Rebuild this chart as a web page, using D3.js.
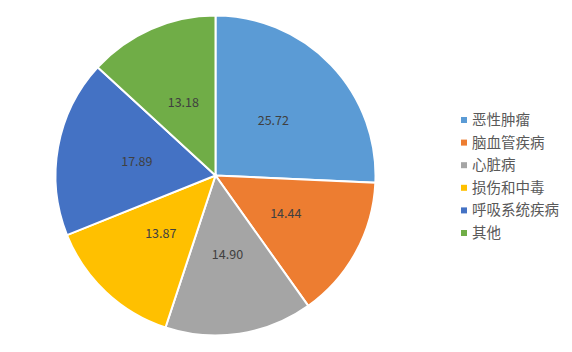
<!DOCTYPE html>
<html>
<head>
<meta charset="utf-8">
<script src="https://cdn.jsdelivr.net/npm/d3@7"></script>
<style>
  body { margin: 0; background: #fff; }
  text { font-family: "Noto Sans CJK SC", "Microsoft YaHei", sans-serif; }
</style>
</head>
<body>
<div id="chart"></div>
<script>
// data
const causes = ["恶性肿瘤", "脑血管疾病", "心脏病", "损伤和中毒", "呼吸系统疾病", "其他"];
const shares = [25.72, 14.44, 14.90, 13.87, 17.89, 13.18];
const colors = ["#5b9bd5", "#ed7d31", "#a5a5a5", "#ffc000", "#4472c4", "#70ad47"];

const width = 572, height = 352;
const cx = 215.5, cy = 175.5, radius = 160;

const svg = d3.select("#chart").append("svg")
  .attr("width", width)
  .attr("height", height);

const pie = d3.pie().sort(null).value(d => d.v);
const arcs = pie(causes.map((c, i) => ({ c: c, v: shares[i] })));

const arc = d3.arc().innerRadius(0).outerRadius(radius);
const labelArc = d3.arc().innerRadius(radius * 0.5).outerRadius(radius * 0.5);

const g = svg.append("g").attr("transform", `translate(${cx},${cy})`);

g.selectAll("path")
  .data(arcs)
  .join("path")
    .attr("d", arc)
    .attr("fill", (d, i) => colors[i])
    .attr("stroke", "#fff")
    .attr("stroke-width", 2);

g.selectAll(".lbl")
  .data(arcs)
  .join("text")
    .attr("class", "lbl")
    .attr("transform", d => `translate(${labelArc.centroid(d)})`)
    .attr("text-anchor", "middle")
    .attr("dy", "0.35em")
    .style("font-size", "12.5px")
    .attr("fill", "#404040")
    .text(d => d.data.v.toFixed(2));

// legend
const legend = svg.append("g").attr("transform", "translate(461,120)");
const rowH = 22.6;

const item = legend.selectAll("g")
  .data(causes)
  .join("g")
    .attr("transform", (d, i) => `translate(0,${i * rowH})`);

item.append("rect")
  .attr("x", 0).attr("y", -3)
  .attr("width", 6).attr("height", 6)
  .attr("fill", (d, i) => colors[i]);

item.append("text")
  .attr("x", 11)
  .attr("dy", "0.35em")
  .style("font-size", "14.5px")
  .attr("fill", "#595959")
  .text(d => d);
</script>
</body>
</html>
